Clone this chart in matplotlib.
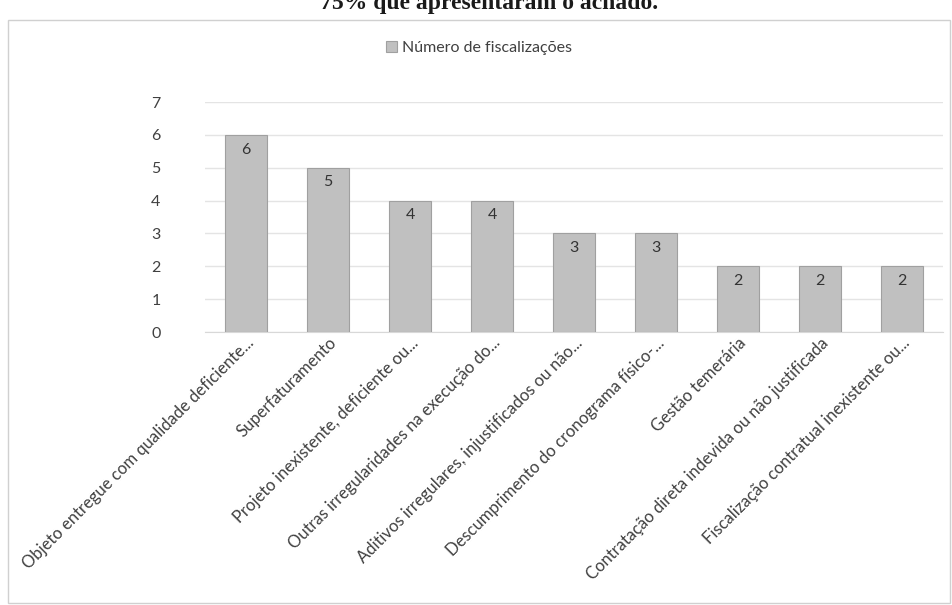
import matplotlib.pyplot as plt
from matplotlib.patches import Rectangle

categorias = [
    "Objeto entregue com qualidade deficiente...",
    "Superfaturamento",
    "Projeto inexistente, deficiente ou...",
    "Outras irregularidades na execução do...",
    "Aditivos irregulares, injustificados ou não...",
    "Descumprimento do cronograma físico-...",
    "Gestão temerária",
    "Contratação direta indevida ou não justificada",
    "Fiscalização contratual inexistente ou...",
]
fiscalizacoes = [6, 5, 4, 4, 3, 3, 2, 2, 2]
titulo = "75% que apresentaram o achado."
serie = "Número de fiscalizações"

plt.rcParams['font.family'] = ['Lato', 'DejaVu Sans']

fig = plt.figure(figsize=(9.52, 6.05), dpi=100)
W, H = 952, 605

# moldura do gráfico
fig.patches.append(Rectangle((8 / W, 2 / H), 942 / W, 583 / H, transform=fig.transFigure,
                             fill=False, edgecolor='#d0d0d0', linewidth=1.0))

# título cortado no topo
fig.text(489 / W, 1 - 9 / H, titulo, ha='center', va='baseline', fontsize=17,
         fontweight='bold', family='Liberation Serif', color='#1a1a1a')

ax = fig.add_axes([205 / W, 1 - 332 / H, 738 / W, 230 / H])
x = range(len(categorias))
bars = ax.bar(x, fiscalizacoes, width=0.52, color='#c0c0c0', edgecolor='#a0a0a0',
              linewidth=0.8, label=serie, zorder=3)
for b, v in zip(bars, fiscalizacoes):
    ax.text(b.get_x() + b.get_width() / 2, v - 0.45, str(v), ha='center', va='center',
            fontsize=11.5, color='#333333', zorder=4)

ax.set_xlim(-0.5, len(categorias) - 0.5)
ax.set_ylim(0, 7)
ax.set_yticks(range(8))
ax.yaxis.grid(True, color='#e4e4e4', linewidth=1.0, zorder=0)
for s in ['top', 'right', 'left']:
    ax.spines[s].set_visible(False)
ax.spines['bottom'].set_color('#d8d8d8')
ax.tick_params(axis='y', length=0, pad=32, labelsize=11.5, labelcolor='#404040')
ax.tick_params(axis='x', length=0, pad=2, labelsize=12, labelcolor='#404040')
ax.set_xticks(list(x))
ax.set_xticklabels(categorias, rotation=45, ha='right', rotation_mode='anchor')

ax.legend(loc='center', bbox_to_anchor=(479 / W, 1 - 48 / H), bbox_transform=fig.transFigure,
          frameon=False, fontsize=11.5, handlelength=0.7, handleheight=0.7, handletextpad=0.3,
          labelcolor='#404040')

fig.savefig('out.png', dpi=100)
